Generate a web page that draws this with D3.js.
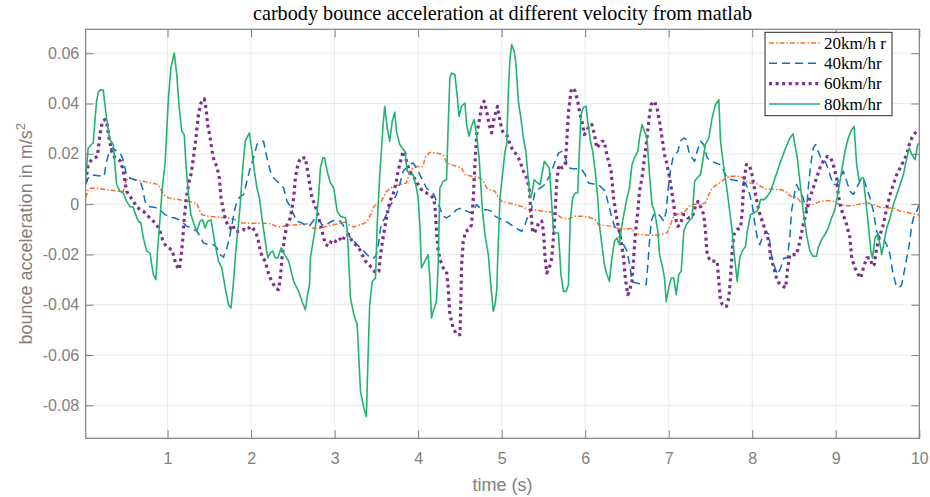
<!DOCTYPE html>
<html>
<head>
<meta charset="utf-8">
<script src="https://cdn.jsdelivr.net/npm/d3@7"></script>
<style>
  body { margin: 0; background: #fff; }
</style>
</head>
<body>
<svg id="chart" width="930" height="497"></svg>
<script>
// ---- data ----
const t20 = [0.02,0.05,0.09,0.17,0.25,0.33,0.41,0.47,0.50,0.53,0.61,0.71,0.81,0.89,0.92,0.95,1.01,1.13,1.25,1.35,1.38,1.41,1.49,1.61,1.73,1.81,1.87,2.01,2.17,2.25,2.29,2.37,2.45,2.57,2.67,2.71,2.75,2.83,2.91,2.99,3.07,3.13,3.17,3.23,3.31,3.39,3.43,3.47,3.51,3.56,3.62,3.70,3.78,3.86,3.90,3.94,4.00,4.06,4.08,4.14,4.22,4.30,4.34,4.40,4.46,4.52,4.56,4.64,4.74,4.78,4.82,4.88,4.92,4.96,5.00,5.08,5.16,5.24,5.32,5.40,5.48,5.60,5.66,5.72,5.80,5.88,5.96,6.04,6.12,6.16,6.24,6.32,6.40,6.48,6.56,6.60,6.68,6.76,6.84,6.92,6.98,7.02,7.06,7.14,7.20,7.24,7.28,7.34,7.38,7.44,7.48,7.52,7.58,7.64,7.68,7.74,7.82,7.88,7.92,7.98,8.06,8.10,8.16,8.24,8.34,8.40,8.46,8.53,8.59,8.65,8.73,8.81,8.89,8.97,9.05,9.13,9.21,9.29,9.37,9.45,9.53,9.61,9.69,9.77,9.85,9.93,10.00];
const v20 = [0.0025,0.0058,0.0064,0.0062,0.0058,0.0055,0.0051,0.0051,0.0091,0.0104,0.0097,0.0091,0.0084,0.0078,0.0058,0.0038,0.0025,0.0018,0.0011,0.0005,-0.0022,-0.0042,-0.0048,-0.0052,-0.0055,-0.0062,-0.0075,-0.0076,-0.0076,-0.0079,-0.0088,-0.0089,-0.0084,-0.0082,-0.0078,-0.0088,-0.0097,-0.0095,-0.0088,-0.0082,-0.0075,-0.0071,-0.0082,-0.0091,-0.0082,-0.0071,-0.0042,-0.0009,0.0001,0.0011,0.0051,0.0071,0.0078,0.0084,0.0131,0.0144,0.0150,0.0150,0.0184,0.0206,0.0203,0.0197,0.0164,0.0157,0.0150,0.0144,0.0117,0.0111,0.0104,0.0091,0.0064,0.0054,0.0051,0.0025,0.0011,0.0005,-0.0002,-0.0009,-0.0022,-0.0022,-0.0028,-0.0032,-0.0042,-0.0055,-0.0058,-0.0048,-0.0048,-0.0051,-0.0062,-0.0082,-0.0085,-0.0089,-0.0097,-0.0099,-0.0097,-0.0119,-0.0121,-0.0124,-0.0124,-0.0119,-0.0115,-0.0082,-0.0048,-0.0035,-0.0028,-0.0009,-0.0002,0.0001,-0.0002,0.0005,0.0038,0.0064,0.0078,0.0091,0.0104,0.0111,0.0111,0.0107,0.0091,0.0084,0.0080,0.0071,0.0060,0.0059,0.0058,0.0051,0.0031,0.0028,0.0005,-0.0002,-0.0002,0.0011,0.0014,0.0011,-0.0002,-0.0006,-0.0006,0.0001,0.0005,-0.0002,-0.0013,-0.0015,-0.0015,-0.0028,-0.0032,-0.0039,-0.0042];

const t40 = [0.02,0.05,0.09,0.15,0.21,0.24,0.27,0.31,0.35,0.39,0.43,0.46,0.49,0.51,0.55,0.61,0.67,0.70,0.73,0.77,0.85,0.91,0.97,1.03,1.09,1.17,1.23,1.29,1.35,1.39,1.43,1.49,1.55,1.59,1.63,1.67,1.71,1.74,1.77,1.80,1.83,1.87,1.91,1.95,1.99,2.03,2.07,2.11,2.15,2.19,2.23,2.27,2.31,2.35,2.39,2.43,2.47,2.51,2.55,2.61,2.66,2.71,2.77,2.81,2.85,2.89,2.93,2.98,3.03,3.07,3.11,3.15,3.19,3.23,3.27,3.31,3.35,3.39,3.43,3.47,3.50,3.53,3.55,3.58,3.62,3.66,3.70,3.74,3.78,3.82,3.86,3.90,3.94,3.98,4.02,4.06,4.10,4.14,4.19,4.22,4.26,4.30,4.34,4.40,4.46,4.52,4.58,4.64,4.70,4.76,4.82,4.88,4.92,4.96,5.02,5.08,5.14,5.20,5.24,5.28,5.32,5.36,5.40,5.46,5.52,5.56,5.60,5.64,5.68,5.72,5.76,5.80,5.86,5.92,5.96,6.00,6.04,6.10,6.16,6.20,6.24,6.28,6.32,6.36,6.40,6.43,6.46,6.50,6.54,6.56,6.60,6.66,6.73,6.75,6.77,6.79,6.82,6.86,6.90,6.94,6.97,6.99,7.02,7.05,7.08,7.11,7.14,7.18,7.21,7.24,7.28,7.31,7.34,7.38,7.42,7.46,7.50,7.56,7.62,7.66,7.70,7.76,7.82,7.88,7.92,7.96,8.00,8.02,8.06,8.09,8.12,8.16,8.20,8.22,8.26,8.30,8.34,8.38,8.42,8.45,8.47,8.51,8.53,8.57,8.61,8.65,8.67,8.70,8.73,8.76,8.79,8.82,8.86,8.89,8.93,8.97,9.01,9.05,9.09,9.13,9.17,9.21,9.25,9.29,9.33,9.37,9.41,9.45,9.49,9.53,9.57,9.61,9.65,9.68,9.72,9.76,9.79,9.82,9.85,9.88,9.91,9.93,9.97,10.00];
const v40 = [0.0078,0.0104,0.0117,0.0114,0.0111,0.0110,0.0170,0.0217,0.0223,0.0210,0.0203,0.0184,0.0144,0.0111,0.0104,0.0097,0.0091,0.0064,0.0011,-0.0009,-0.0013,-0.0022,-0.0042,-0.0052,-0.0055,-0.0068,-0.0088,-0.0095,-0.0108,-0.0128,-0.0154,-0.0161,-0.0161,-0.0174,-0.0201,-0.0211,-0.0174,-0.0134,-0.0082,-0.0028,0.0011,0.0031,0.0038,0.0091,0.0144,0.0184,0.0237,0.0250,0.0250,0.0184,0.0131,0.0104,0.0091,0.0078,0.0064,0.0011,-0.0009,-0.0042,-0.0068,-0.0075,-0.0088,-0.0082,-0.0055,-0.0062,-0.0082,-0.0088,-0.0075,-0.0066,-0.0062,-0.0068,-0.0088,-0.0108,-0.0134,-0.0148,-0.0161,-0.0174,-0.0187,-0.0201,-0.0214,-0.0214,-0.0201,-0.0148,-0.0095,-0.0068,-0.0042,-0.0009,0.0011,0.0038,0.0078,0.0131,0.0144,0.0157,0.0164,0.0144,0.0117,0.0091,0.0064,0.0051,0.0038,0.0011,-0.0015,-0.0048,-0.0055,-0.0042,-0.0022,-0.0015,-0.0028,-0.0035,-0.0002,-0.0022,-0.0022,-0.0028,-0.0048,-0.0055,-0.0062,-0.0075,-0.0088,-0.0101,-0.0108,-0.0082,-0.0042,-0.0015,0.0051,0.0064,0.0078,0.0104,0.0131,0.0170,0.0203,0.0210,0.0184,0.0144,0.0141,0.0141,0.0137,0.0117,0.0084,0.0080,0.0078,0.0064,0.0051,-0.0002,-0.0055,-0.0095,-0.0108,-0.0134,-0.0161,-0.0187,-0.0254,-0.0307,-0.0313,-0.0317,-0.0320,-0.0241,-0.0148,-0.0068,-0.0042,-0.0035,-0.0048,-0.0068,-0.0028,0.0051,0.0131,0.0184,0.0197,0.0210,0.0250,0.0263,0.0256,0.0210,0.0184,0.0170,0.0210,0.0250,0.0237,0.0184,0.0170,0.0164,0.0157,0.0131,0.0104,0.0097,0.0093,0.0091,0.0084,0.0051,-0.0002,-0.0055,-0.0134,-0.0161,-0.0134,-0.0108,-0.0121,-0.0187,-0.0241,-0.0280,-0.0254,-0.0214,-0.0214,-0.0134,-0.0028,0.0051,0.0078,0.0051,0.0025,-0.0028,0.0064,0.0157,0.0223,0.0237,0.0210,0.0184,0.0177,0.0157,0.0117,0.0078,0.0078,0.0104,0.0131,0.0091,0.0051,0.0038,0.0064,0.0091,0.0104,0.0064,0.0025,-0.0028,-0.0108,-0.0134,-0.0141,-0.0161,-0.0201,-0.0267,-0.0320,-0.0333,-0.0320,-0.0267,-0.0214,-0.0161,-0.0082,-0.0055,-0.0028,0.0000];

const t60 = [0.02,0.05,0.09,0.13,0.16,0.19,0.22,0.25,0.27,0.30,0.33,0.37,0.41,0.44,0.47,0.49,0.51,0.55,0.59,0.63,0.67,0.71,0.75,0.79,0.83,0.87,0.91,0.94,0.97,1.01,1.05,1.07,1.10,1.14,1.16,1.18,1.20,1.23,1.26,1.28,1.31,1.34,1.37,1.40,1.44,1.46,1.48,1.51,1.54,1.56,1.59,1.62,1.64,1.67,1.70,1.72,1.75,1.78,1.81,1.87,1.91,1.95,1.99,2.02,2.05,2.08,2.11,2.14,2.17,2.20,2.23,2.27,2.30,2.33,2.35,2.37,2.40,2.43,2.47,2.51,2.53,2.56,2.59,2.65,2.69,2.73,2.77,2.81,2.85,2.89,2.93,2.97,3.01,3.05,3.09,3.13,3.17,3.21,3.25,3.29,3.33,3.37,3.41,3.45,3.49,3.53,3.55,3.58,3.62,3.66,3.70,3.74,3.76,3.80,3.82,3.84,3.87,3.90,3.94,3.98,4.02,4.06,4.10,4.14,4.18,4.20,4.22,4.24,4.27,4.30,4.34,4.36,4.38,4.42,4.46,4.50,4.51,4.52,4.54,4.57,4.61,4.64,4.66,4.68,4.70,4.73,4.76,4.79,4.82,4.85,4.88,4.91,4.95,4.98,5.01,5.04,5.07,5.10,5.14,5.18,5.22,5.26,5.30,5.33,5.35,5.37,5.39,5.42,5.45,5.48,5.50,5.52,5.54,5.57,5.60,5.62,5.64,5.66,5.68,5.70,5.72,5.76,5.78,5.80,5.83,5.85,5.88,5.91,5.94,5.97,5.99,6.02,6.05,6.08,6.11,6.14,6.17,6.20,6.23,6.25,6.28,6.31,6.34,6.37,6.40,6.43,6.46,6.48,6.51,6.53,6.56,6.58,6.60,6.63,6.65,6.68,6.71,6.74,6.77,6.79,6.83,6.86,6.89,6.92,6.95,6.98,7.01,7.03,7.06,7.08,7.11,7.14,7.17,7.20,7.23,7.26,7.29,7.32,7.35,7.38,7.42,7.44,7.46,7.50,7.54,7.58,7.60,7.62,7.66,7.69,7.72,7.74,7.76,7.78,7.82,7.86,7.88,7.90,7.93,7.96,7.99,8.04,8.08,8.12,8.16,8.20,8.22,8.26,8.30,8.34,8.40,8.42,8.45,8.49,8.53,8.57,8.61,8.65,8.69,8.73,8.77,8.81,8.85,8.90,8.94,8.97,9.01,9.03,9.06,9.09,9.13,9.17,9.19,9.23,9.27,9.30,9.33,9.37,9.41,9.44,9.46,9.49,9.53,9.57,9.61,9.65,9.69,9.73,9.77,9.81,9.85,9.88,9.91,9.95,10.00];
const v60 = [0.0091,0.0157,0.0177,0.0184,0.0190,0.0276,0.0329,0.0336,0.0329,0.0263,0.0210,0.0184,0.0177,0.0170,0.0131,0.0091,0.0051,0.0031,0.0011,-0.0009,-0.0022,-0.0028,-0.0042,-0.0055,-0.0068,-0.0082,-0.0108,-0.0141,-0.0161,-0.0174,-0.0181,-0.0201,-0.0241,-0.0260,-0.0214,-0.0148,-0.0055,0.0038,0.0091,0.0117,0.0184,0.0263,0.0356,0.0402,0.0419,0.0382,0.0316,0.0263,0.0197,0.0170,0.0150,0.0104,0.0025,-0.0028,-0.0068,-0.0082,-0.0095,-0.0082,-0.0108,-0.0108,-0.0101,-0.0105,-0.0088,-0.0095,-0.0108,-0.0134,-0.0187,-0.0214,-0.0227,-0.0267,-0.0294,-0.0320,-0.0336,-0.0340,-0.0294,-0.0214,-0.0134,-0.0082,-0.0055,0.0025,0.0104,0.0157,0.0184,0.0184,0.0104,0.0025,-0.0009,-0.0055,-0.0108,-0.0161,-0.0167,-0.0141,-0.0148,-0.0134,-0.0148,-0.0121,-0.0121,-0.0148,-0.0161,-0.0174,-0.0201,-0.0227,-0.0241,-0.0254,-0.0274,-0.0267,-0.0201,-0.0134,-0.0055,0.0011,0.0038,0.0091,0.0131,0.0184,0.0210,0.0203,0.0157,0.0131,0.0111,0.0091,0.0064,0.0051,0.0044,0.0038,0.0025,-0.0002,-0.0108,-0.0187,-0.0227,-0.0254,-0.0267,-0.0333,-0.0439,-0.0492,-0.0519,-0.0519,-0.0413,-0.0241,-0.0148,-0.0108,-0.0101,-0.0082,0.0025,0.0157,0.0276,0.0329,0.0389,0.0409,0.0369,0.0316,0.0283,0.0343,0.0389,0.0329,0.0290,0.0276,0.0270,0.0237,0.0210,0.0197,0.0170,0.0131,0.0104,0.0064,-0.0028,-0.0108,-0.0115,-0.0095,-0.0068,-0.0068,-0.0108,-0.0214,-0.0274,-0.0254,-0.0214,-0.0134,-0.0028,0.0091,0.0144,0.0157,0.0144,0.0157,0.0250,0.0369,0.0449,0.0462,0.0449,0.0409,0.0356,0.0316,0.0276,0.0290,0.0316,0.0316,0.0276,0.0223,0.0237,0.0250,0.0250,0.0210,0.0170,0.0131,0.0025,-0.0042,-0.0095,-0.0148,-0.0214,-0.0294,-0.0360,-0.0347,-0.0307,-0.0214,-0.0121,-0.0028,0.0051,0.0104,0.0184,0.0263,0.0356,0.0396,0.0409,0.0382,0.0329,0.0263,0.0197,0.0157,0.0104,0.0064,-0.0002,-0.0055,-0.0088,-0.0082,-0.0042,-0.0042,-0.0055,-0.0055,-0.0042,-0.0009,0.0011,-0.0009,-0.0042,-0.0108,-0.0201,-0.0227,-0.0227,-0.0227,-0.0307,-0.0387,-0.0407,-0.0407,-0.0373,-0.0294,-0.0187,-0.0121,-0.0101,-0.0095,-0.0028,0.0091,0.0157,0.0157,0.0131,0.0038,-0.0028,-0.0068,-0.0108,-0.0148,-0.0214,-0.0254,-0.0307,-0.0320,-0.0333,-0.0267,-0.0201,-0.0201,-0.0201,-0.0148,-0.0082,-0.0028,0.0025,0.0064,0.0104,0.0144,0.0170,0.0190,0.0184,0.0157,0.0104,0.0038,-0.0015,-0.0042,-0.0082,-0.0134,-0.0214,-0.0254,-0.0280,-0.0294,-0.0254,-0.0214,-0.0214,-0.0247,-0.0241,-0.0174,-0.0121,-0.0082,-0.0015,0.0038,0.0078,0.0117,0.0144,0.0170,0.0197,0.0237,0.0263,0.0283,0.0296];

const t80 = [0.02,0.05,0.09,0.11,0.13,0.15,0.17,0.19,0.23,0.25,0.28,0.31,0.35,0.37,0.39,0.43,0.47,0.51,0.55,0.59,0.61,0.65,0.68,0.71,0.75,0.79,0.81,0.83,0.86,0.88,0.91,0.94,0.97,0.99,1.01,1.04,1.08,1.11,1.14,1.17,1.20,1.22,1.25,1.28,1.32,1.35,1.39,1.42,1.45,1.48,1.52,1.57,1.61,1.65,1.69,1.73,1.76,1.79,1.81,1.84,1.87,1.90,1.93,1.98,2.01,2.04,2.07,2.10,2.13,2.17,2.20,2.23,2.26,2.29,2.32,2.36,2.40,2.45,2.51,2.57,2.61,2.65,2.67,2.70,2.71,2.75,2.78,2.81,2.83,2.86,2.88,2.91,2.95,2.99,3.03,3.07,3.13,3.15,3.19,3.23,3.27,3.29,3.31,3.35,3.38,3.40,3.42,3.45,3.49,3.51,3.54,3.56,3.58,3.60,3.63,3.66,3.69,3.72,3.74,3.78,3.81,3.84,3.87,3.91,3.94,3.98,4.00,4.02,4.04,4.08,4.12,4.14,4.16,4.18,4.22,4.24,4.26,4.30,4.34,4.36,4.38,4.40,4.44,4.47,4.49,4.52,4.56,4.58,4.61,4.64,4.67,4.70,4.73,4.77,4.80,4.84,4.87,4.90,4.92,4.94,4.96,4.98,5.01,5.04,5.06,5.08,5.10,5.12,5.15,5.17,5.20,5.23,5.26,5.29,5.31,5.34,5.36,5.39,5.43,5.46,5.49,5.51,5.54,5.57,5.59,5.62,5.65,5.68,5.71,5.74,5.77,5.80,5.82,5.85,5.88,5.91,5.93,5.95,5.98,6.01,6.03,6.06,6.09,6.12,6.15,6.17,6.20,6.23,6.26,6.29,6.32,6.35,6.38,6.41,6.44,6.47,6.50,6.53,6.56,6.59,6.63,6.65,6.68,6.71,6.74,6.77,6.80,6.83,6.87,6.89,6.92,6.95,6.97,7.00,7.03,7.06,7.09,7.12,7.15,7.18,7.21,7.24,7.28,7.31,7.34,7.38,7.44,7.48,7.52,7.56,7.60,7.62,7.66,7.70,7.73,7.76,7.78,7.82,7.85,7.88,7.92,7.94,7.98,8.02,8.06,8.10,8.14,8.18,8.22,8.26,8.30,8.34,8.40,8.45,8.49,8.51,8.54,8.57,8.61,8.65,8.69,8.73,8.77,8.79,8.83,8.87,8.91,8.95,8.99,9.03,9.07,9.11,9.15,9.19,9.22,9.25,9.28,9.31,9.33,9.36,9.39,9.42,9.44,9.47,9.50,9.53,9.55,9.58,9.61,9.65,9.69,9.73,9.77,9.81,9.85,9.88,9.91,9.95,9.98,10.00];
const v80 = [0.0104,0.0223,0.0237,0.0243,0.0329,0.0409,0.0442,0.0453,0.0453,0.0396,0.0316,0.0256,0.0237,0.0157,0.0078,0.0051,0.0044,0.0011,-0.0009,-0.0013,-0.0035,-0.0068,-0.0075,-0.0134,-0.0187,-0.0194,-0.0240,-0.0280,-0.0300,-0.0187,-0.0055,0.0078,0.0157,0.0290,0.0422,0.0541,0.0601,0.0515,0.0382,0.0290,0.0276,0.0157,0.0038,-0.0042,-0.0082,-0.0108,-0.0068,-0.0062,-0.0095,-0.0068,-0.0062,-0.0161,-0.0227,-0.0254,-0.0333,-0.0400,-0.0413,-0.0307,-0.0214,-0.0108,-0.0002,0.0144,0.0250,0.0283,0.0210,0.0130,0.0064,0.0025,-0.0055,-0.0148,-0.0214,-0.0194,-0.0187,-0.0214,-0.0214,-0.0174,-0.0200,-0.0227,-0.0307,-0.0347,-0.0387,-0.0420,-0.0373,-0.0320,-0.0214,-0.0134,-0.0068,0.0038,0.0144,0.0184,0.0184,0.0131,0.0084,0.0064,-0.0028,-0.0048,-0.0055,-0.0095,-0.0373,-0.0439,-0.0479,-0.0612,-0.0744,-0.0811,-0.0844,-0.0612,-0.0400,-0.0307,-0.0294,-0.0082,0.0117,0.0210,0.0316,0.0389,0.0303,0.0250,0.0329,0.0366,0.0290,0.0237,0.0223,0.0210,0.0131,0.0117,0.0117,0.0064,0.0025,-0.0082,-0.0254,-0.0227,-0.0201,-0.0294,-0.0453,-0.0426,-0.0387,-0.0241,0.0064,0.0091,0.0097,0.0316,0.0502,0.0521,0.0515,0.0422,0.0349,0.0389,0.0402,0.0316,0.0270,0.0310,0.0336,0.0276,0.0184,-0.0028,-0.0121,-0.0201,-0.0320,-0.0426,-0.0400,-0.0347,-0.0148,0.0025,0.0117,0.0210,0.0237,0.0449,0.0581,0.0634,0.0608,0.0561,0.0409,0.0343,0.0263,0.0210,0.0131,0.0025,0.0038,0.0097,0.0084,0.0078,0.0131,0.0170,0.0157,0.0144,0.0051,-0.0108,-0.0115,-0.0115,-0.0280,-0.0347,-0.0347,-0.0320,-0.0068,0.0025,0.0044,0.0044,0.0210,0.0356,0.0385,0.0389,0.0329,0.0256,0.0210,0.0131,0.0025,-0.0082,-0.0161,-0.0241,-0.0280,-0.0307,-0.0214,-0.0148,-0.0134,-0.0161,-0.0082,-0.0028,0.0025,0.0064,0.0157,0.0184,0.0210,0.0263,0.0316,0.0290,0.0263,0.0117,-0.0002,-0.0028,-0.0108,-0.0201,-0.0241,-0.0294,-0.0387,-0.0333,-0.0294,-0.0294,-0.0360,-0.0280,-0.0267,-0.0108,-0.0082,-0.0068,-0.0055,0.0091,0.0104,0.0117,0.0237,0.0263,0.0343,0.0396,0.0415,0.0250,0.0144,0.0051,-0.0028,-0.0108,-0.0187,-0.0307,-0.0214,-0.0187,-0.0167,-0.0108,-0.0042,-0.0035,-0.0028,0.0018,0.0018,0.0031,0.0051,0.0091,0.0131,0.0170,0.0223,0.0263,0.0279,0.0237,0.0184,0.0091,-0.0028,-0.0121,-0.0187,-0.0207,-0.0207,-0.0174,-0.0141,-0.0121,-0.0095,-0.0055,-0.0022,0.0051,0.0131,0.0210,0.0263,0.0296,0.0309,0.0157,0.0091,0.0104,0.0104,0.0011,-0.0082,-0.0187,-0.0214,-0.0134,-0.0121,-0.0161,-0.0201,-0.0148,-0.0095,-0.0055,-0.0002,0.0038,0.0078,0.0117,0.0184,0.0223,0.0197,0.0177,0.0237,0.0243];

const names = ['20km/h r', '40km/hr', '60km/hr', '80km/hr'];
const xTicks = [1, 2, 3, 4, 5, 6, 7, 8, 9, 10];
const yTicks = [-0.08, -0.06, -0.04, -0.02, 0, 0.02, 0.04, 0.06];

// line styles, same order as names
const styles = [
  { color: '#ff6c2c', width: 1.5, dash: '5,2,1.5,2' },
  { color: '#0a72c0', width: 1.5, dash: '8,5' },
  { color: '#7e2f8e', width: 3.2, dash: '3,3.6' },
  { color: '#22b36e', width: 1.6, dash: null }
];

const series = [
  { t: t20, v: v20 },
  { t: t40, v: v40 },
  { t: t60, v: v60 },
  { t: t80, v: v80 }
];

let svg = d3.select('#chart');
// plot box in pixels
let pL = 85.7, pR = 919.3, pT = 29.3, pB = 438.3;

let x = d3.scaleLinear().domain([0.02, 10]).range([pL, pR]);
let y = d3.scaleLinear().domain([-0.0931, 0.0695]).range([pB, pT]);

const grey = '#808080';

// grid
svg.append('g').selectAll('line').data(xTicks).join('line')
  .attr('x1', d => x(d)).attr('x2', d => x(d))
  .attr('y1', pT).attr('y2', pB)
  .attr('stroke', '#ebebeb').attr('stroke-width', 1);
svg.append('g').selectAll('line').data(yTicks).join('line')
  .attr('x1', pL).attr('x2', pR)
  .attr('y1', d => y(d)).attr('y2', d => y(d))
  .attr('stroke', '#ebebeb').attr('stroke-width', 1);

// clip for the lines
svg.append('clipPath').attr('id', 'plotclip')
  .append('rect').attr('x', pL).attr('y', pT)
  .attr('width', pR - pL).attr('height', pB - pT);

let line = d3.line().x(d => x(d[0])).y(d => y(d[1]));

let lines = svg.append('g').attr('clip-path', 'url(#plotclip)');
series.forEach((s, i) => {
  let n = Math.min(s.t.length, s.v.length);
  let pts = d3.range(n).map(k => [s.t[k], s.v[k]]);
  lines.append('path')
    .attr('d', line(pts))
    .attr('fill', 'none')
    .attr('stroke', styles[i].color)
    .attr('stroke-width', styles[i].width)
    .attr('stroke-dasharray', styles[i].dash)
    .attr('stroke-linejoin', 'round');
});

// axes, matlab style: ticks pointing inwards on all four sides
let yFmt = d => d === 0 ? '0' : d.toFixed(2);

function styleAxis(g) {
  g.select('.domain').remove();
  g.selectAll('.tick line').attr('stroke', grey);
  g.selectAll('.tick text')
    .attr('fill', grey)
    .style('font-family', '"Liberation Sans", Arial, sans-serif')
    .style('font-size', '16px');
}

svg.append('g').attr('transform', `translate(0,${pB})`)
  .call(d3.axisBottom(x).tickValues(xTicks).tickSizeInner(-8).tickSizeOuter(0).tickPadding(14))
  .call(styleAxis);
svg.append('g').attr('transform', `translate(0,${pT})`)
  .call(d3.axisTop(x).tickValues(xTicks).tickSizeInner(-8).tickSizeOuter(0).tickFormat(''))
  .call(styleAxis);
svg.append('g').attr('transform', `translate(${pL},0)`)
  .call(d3.axisLeft(y).tickValues(yTicks).tickSizeInner(-8).tickSizeOuter(0).tickPadding(6.5).tickFormat(yFmt))
  .call(styleAxis);
svg.append('g').attr('transform', `translate(${pR},0)`)
  .call(d3.axisRight(y).tickValues(yTicks).tickSizeInner(-8).tickSizeOuter(0).tickFormat(''))
  .call(styleAxis);

// box
svg.append('rect')
  .attr('x', pL).attr('y', pT)
  .attr('width', pR - pL).attr('height', pB - pT)
  .attr('fill', 'none').attr('stroke', grey).attr('stroke-width', 1.2);

// labels
svg.append('text')
  .attr('x', (pL + pR) / 2).attr('y', 491)
  .attr('text-anchor', 'middle')
  .attr('fill', grey)
  .style('font-family', '"Liberation Sans", Arial, sans-serif')
  .style('font-size', '18px')
  .text('time (s)');

let yl = svg.append('text')
  .attr('transform', `translate(32,${(pT + pB) / 2}) rotate(-90)`)
  .attr('text-anchor', 'middle')
  .attr('fill', grey)
  .style('font-family', '"Liberation Sans", Arial, sans-serif')
  .style('font-size', '18px');
yl.append('tspan').text('bounce acceleration in m/s');
yl.append('tspan').attr('baseline-shift', 'super').style('font-size', '13px').text('2');

svg.append('text')
  .attr('x', (pL + pR) / 2).attr('y', 19.5)
  .attr('text-anchor', 'middle')
  .attr('fill', '#000')
  .style('font-family', '"Liberation Serif", "Times New Roman", serif')
  .style('font-size', '20.2px')
  .text('carbody bounce acceleration at different velocity from matlab');

// legend
let lg = svg.append('g');
lg.append('rect')
  .attr('x', 765).attr('y', 32.3).attr('width', 127).attr('height', 83.4)
  .attr('fill', '#fff').attr('stroke', '#262626').attr('stroke-width', 1);
let rowY = d3.scalePoint().domain(names).range([43, 104]);
names.forEach((n, i) => {
  let yy = rowY(n);
  lg.append('line')
    .attr('x1', 769).attr('x2', 820).attr('y1', yy).attr('y2', yy)
    .attr('stroke', styles[i].color)
    .attr('stroke-width', styles[i].width)
    .attr('stroke-dasharray', styles[i].dash);
  lg.append('text')
    .attr('x', 824).attr('y', yy + 5.5)
    .attr('fill', '#000')
    .style('font-family', '"Liberation Serif", "Times New Roman", serif')
    .style('font-size', '17px')
    .text(n);
});
</script>
</body>
</html>
